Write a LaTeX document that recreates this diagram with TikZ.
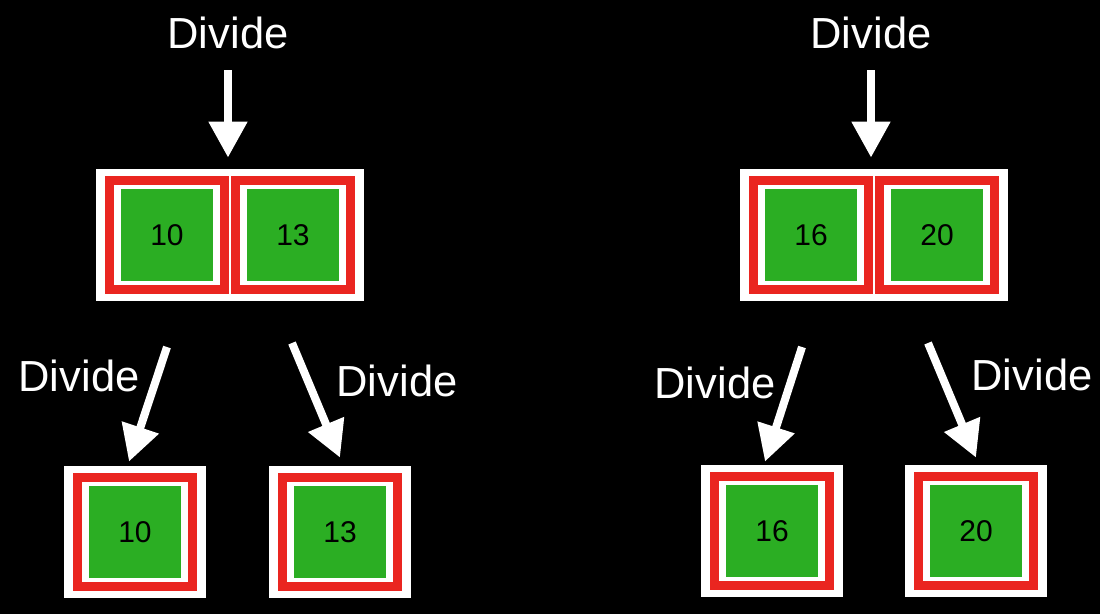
\documentclass[tikz,border=0pt]{standalone}
\usepackage{fontspec}
\setmainfont{Liberation Sans}
\usetikzlibrary{arrows.meta, fit}
\definecolor{boxgreen}{RGB}{43,174,35}
\definecolor{boxred}{RGB}{234,37,32}
\pgfdeclarelayer{back}
\pgfdeclarelayer{mid}
\pgfsetlayers{back,mid,main}

\begin{document}
\begin{tikzpicture}[x=1pt, y=-1pt,
    every node/.style={align=center},
    cell/.style={fill=boxgreen, minimum size=92pt, inner sep=0pt,
                 font=\fontsize{30}{35}\selectfont},
    redframe/.style={draw=boxred, line width=9pt, fill=white,
                     inner xsep=11pt, inner ysep=8.5pt},
    outerbox/.style={fill=white, inner xsep=9pt, inner ysep=7pt},
    lbl/.style={text=white, font=\fontsize{43.5}{50}\selectfont},
    divarrow/.style={-{Triangle[width=37pt, length=36pt]}, white, line width=8pt}
]
\begin{pgfonlayer}{back}
\fill[black] (0,0) rectangle (1100,614);
\end{pgfonlayer}
\useasboundingbox (0,0) rectangle (1100,614);

% pairs
\node[cell] (c10) at (167,235) {10};
\node[cell] (c13) at (293,235) {13};
\node[cell] (c16) at (811,235) {16};
\node[cell] (c20) at (937,235) {20};
% single cells
\node[cell] (s10) at (135,532) {10};
\node[cell] (s13) at (340,532) {13};
\node[cell] (s16) at (772,531) {16};
\node[cell] (s20) at (976,531) {20};

\begin{pgfonlayer}{mid}
\foreach \c in {c10,c13,c16,c20,s10,s13,s16,s20}
  \node[redframe, fit=(\c)] (f\c) {};
\end{pgfonlayer}
\begin{pgfonlayer}{back}
\node[outerbox, fit=(fc10)(fc13)] (gL) {};
\node[outerbox, fit=(fc16)(fc20)] (gR) {};
\foreach \c in {s10,s13,s16,s20}
  \node[outerbox, fit=(f\c)] (g\c) {};
\end{pgfonlayer}

\node[lbl] (dL) at (228,33) {Divide};
\node[lbl] (dR) at (871,33) {Divide};
\node[lbl] (d1) at (79,376) {Divide};
\node[lbl] (d2) at (397,381) {Divide};
\node[lbl] (d3) at (715,383) {Divide};
\node[lbl] (d4) at (1032,375) {Divide};

\coordinate (tL) at (228,70);
\coordinate (tR) at (871,70);
\coordinate (t1) at (167,347);
\coordinate (t2) at (292,343);
\coordinate (t3) at (802,347);
\coordinate (t4) at (928,343);
\draw[divarrow, shorten >=11pt] (tL) -- (tL |- gL.north);
\draw[divarrow, shorten >=11pt] (tR) -- (tR |- gR.north);
\draw[divarrow] (t1) -- ([shift={(-6pt,4pt)}]gs10.north);
\draw[divarrow] (t2) -- ([shift={(0pt,8pt)}]gs13.north);
\draw[divarrow] (t3) -- ([shift={(-7pt,3pt)}]gs16.north);
\draw[divarrow] (t4) -- ([shift={(0pt,7pt)}]gs20.north);
\end{tikzpicture}
\end{document}
